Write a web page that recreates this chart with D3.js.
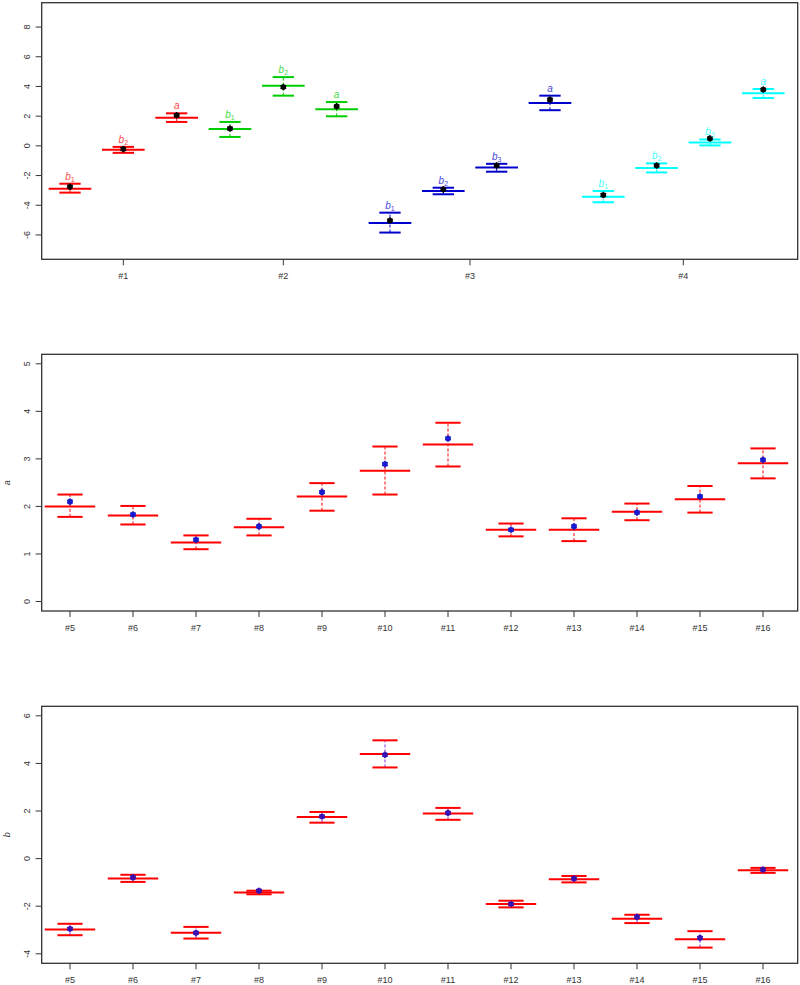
<html>
<head>
<script src="https://d3js.org/d3.v7.min.js"></script>
<style>
  body { margin: 0; background: #fff; }
  text { font-family: "Liberation Sans", Arial, sans-serif; }
</style>
</head>
<body>
<svg id="chart" width="800" height="985"></svg>
<script>
// ---- top panel: 14 estimates in 4 groups
const topGroups = ["#1", "#2", "#3", "#4"];
const topGroupCenter = [2, 5, 8.5, 12.5];
const topColor = ["#ff0000", "#00cd00", "#0000cd", "#00ffff"];
const topGroupOf = [0,0,0, 1,1,1, 2,2,2,2, 3,3,3,3];
const topBase = ["b","b","a", "b","b","a", "b","b","b","a", "b","b","b","a"];
const topSub  = ["1","2","",  "1","2","",  "1","2","3","",  "1","2","3",""];
const topMid   = [-2.89,-0.27,1.90, 1.14,4.05,2.46, -5.19,-3.04,-1.45,2.89, -3.42,-1.50,0.23,3.54];
const topUpper = [-2.55,-0.07,2.19, 1.61,4.63,2.95, -4.50,-2.82,-1.21,3.38, -3.04,-1.18,0.43,3.83];
const topLower = [-3.15,-0.47,1.61, 0.60,3.38,1.99, -5.84,-3.26,-1.74,2.40, -3.80,-1.79,0.03,3.22];
const topPoint = [-2.75,-0.22,2.06, 1.17,3.96,2.66, -5.03,-2.93,-1.32,3.11, -3.31,-1.32,0.50,3.79];
const topTicks = [-6,-4,-2,0,2,4,6,8];

// ---- middle and bottom panels: #5 .. #16
const items = ["#5","#6","#7","#8","#9","#10","#11","#12","#13","#14","#15","#16"];
const aMid   = [2.00,1.81,1.24,1.56,2.21,2.75,3.30,1.51,1.51,1.89,2.15,2.91];
const aUpper = [2.25,2.01,1.39,1.74,2.49,3.26,3.76,1.64,1.75,2.06,2.43,3.22];
const aLower = [1.78,1.62,1.10,1.39,1.91,2.25,2.84,1.37,1.27,1.71,1.87,2.59];
const aPoint = [2.10,1.83,1.30,1.58,2.30,2.89,3.43,1.51,1.58,1.87,2.21,2.98];
const aTicks = [0,1,2,3,4,5];

const bMid   = [-2.98,-0.84,-3.12,-1.42,1.75,4.40,1.89,-1.91,-0.87,-2.53,-3.39,-0.49];
const bUpper = [-2.74,-0.68,-2.87,-1.35,1.96,4.97,2.13,-1.77,-0.73,-2.36,-3.05,-0.39];
const bLower = [-3.22,-0.98,-3.36,-1.50,1.51,3.83,1.63,-2.05,-1.00,-2.71,-3.74,-0.60];
const bPoint = [-2.95,-0.79,-3.12,-1.35,1.77,4.36,1.92,-1.91,-0.84,-2.45,-3.33,-0.46];
const bTicks = [-4,-2,0,2,4,6];

const svg = d3.select("#chart");
const boxLeft = 41.7, boxRight = 797.7;

function drawPanel(opt) {
  const g = svg.append("g");
  const n = opt.mid.length;
  const x = d3.scaleLinear().domain([1, n]).range([70, opt.lastX]);
  const y = d3.scaleLinear().domain(opt.ydomain).range([opt.bottom, opt.top]);
  const step = x(2) - x(1);

  // frame
  g.append("rect")
    .attr("x", boxLeft).attr("y", opt.top)
    .attr("width", boxRight - boxLeft).attr("height", opt.bottom - opt.top)
    .attr("fill", "none").attr("stroke", "#333").attr("stroke-width", 1.3);

  // y axis
  const yAxis = g.append("g");
  opt.yticks.forEach(t => {
    yAxis.append("line")
      .attr("x1", boxLeft - 6).attr("x2", boxLeft)
      .attr("y1", y(t)).attr("y2", y(t))
      .attr("stroke", "#333");
    yAxis.append("text")
      .attr("transform", `translate(30,${y(t)}) rotate(-90)`)
      .attr("text-anchor", "middle")
      .style("font-size", "9px").attr("fill", "#333")
      .text(t);
  });
  if (opt.ylabel) {
    g.append("text")
      .attr("transform", `translate(10,${(opt.top + opt.bottom) / 2}) rotate(-90)`)
      .attr("text-anchor", "middle")
      .style("font-size", "9px").style("font-style", "italic").attr("fill", "#333")
      .text(opt.ylabel);
  }

  // x axis
  opt.xticks.forEach((lab, i) => {
    const px = x(opt.xtickPos[i]);
    g.append("line")
      .attr("x1", px).attr("x2", px)
      .attr("y1", opt.bottom).attr("y2", opt.bottom + 6)
      .attr("stroke", "#333");
    g.append("text")
      .attr("x", px).attr("y", opt.bottom + 20)
      .attr("text-anchor", "middle")
      .style("font-size", "9px").attr("fill", "#333")
      .text(lab);
  });

  // error bars
  d3.range(n).forEach(i => {
    const cx = x(i + 1);
    const col = opt.color(i);
    g.append("line")
      .attr("x1", cx).attr("x2", cx)
      .attr("y1", y(opt.lower[i])).attr("y2", y(opt.upper[i]))
      .attr("stroke", opt.dashColor(i)).attr("stroke-width", 1)
      .attr("stroke-dasharray", "3,2");
    [opt.upper[i], opt.lower[i]].forEach(v => {
      g.append("line")
        .attr("x1", cx - step * 0.2).attr("x2", cx + step * 0.2)
        .attr("y1", y(v)).attr("y2", y(v))
        .attr("stroke", col).attr("stroke-width", 2);
    });
    g.append("line")
      .attr("x1", cx - step * 0.4).attr("x2", cx + step * 0.4)
      .attr("y1", y(opt.mid[i])).attr("y2", y(opt.mid[i]))
      .attr("stroke", col).attr("stroke-width", 2);

    // point marker: dot + asterisk
    const py = y(opt.point[i]);
    g.append("circle").attr("cx", cx).attr("cy", py).attr("r", 2.8)
      .attr("fill", opt.pointColor);
    g.append("path")
      .attr("transform", `translate(${cx},${py})`)
      .attr("d", d3.symbol().type(d3.symbolAsterisk).size(30)())
      .attr("fill", "none").attr("stroke", opt.pointColor).attr("stroke-width", 1.2);

    if (opt.base) {
      const t = g.append("text")
        .attr("x", cx).attr("y", y(opt.upper[i]) - 4)
        .attr("text-anchor", "middle")
        .style("font-size", "10px").attr("fill", col).attr("opacity", 0.75);
      t.append("tspan").style("font-style", "italic").text(opt.base[i]);
      if (opt.sub[i]) {
        t.append("tspan").attr("dy", 2).style("font-size", "7px").text(opt.sub[i]);
      }
    }
  });
}

drawPanel({
  top: 2.7, bottom: 259.3, lastX: 763.3, ydomain: [-7.64, 9.64], yticks: topTicks,
  mid: topMid, upper: topUpper, lower: topLower, point: topPoint,
  color: i => topColor[topGroupOf[i]], dashColor: i => topColor[topGroupOf[i]],
  pointColor: "#000", xticks: topGroups, xtickPos: topGroupCenter,
  base: topBase, sub: topSub
});

drawPanel({
  top: 354.3, bottom: 611, lastX: 763, ydomain: [-0.2, 5.2], yticks: aTicks, ylabel: "a",
  mid: aMid, upper: aUpper, lower: aLower, point: aPoint,
  color: () => "#ff0000", dashColor: () => "#ff0000",
  pointColor: "#1a1acd", xticks: items, xtickPos: d3.range(1, 13)
});

drawPanel({
  top: 706.3, bottom: 963.3, lastX: 763, ydomain: [-4.4, 6.4], yticks: bTicks, ylabel: "b",
  mid: bMid, upper: bUpper, lower: bLower, point: bPoint,
  color: () => "#ff0000", dashColor: () => "#8a2be2",
  pointColor: "#3a10b0", xticks: items, xtickPos: d3.range(1, 13)
});
</script>
</body>
</html>
